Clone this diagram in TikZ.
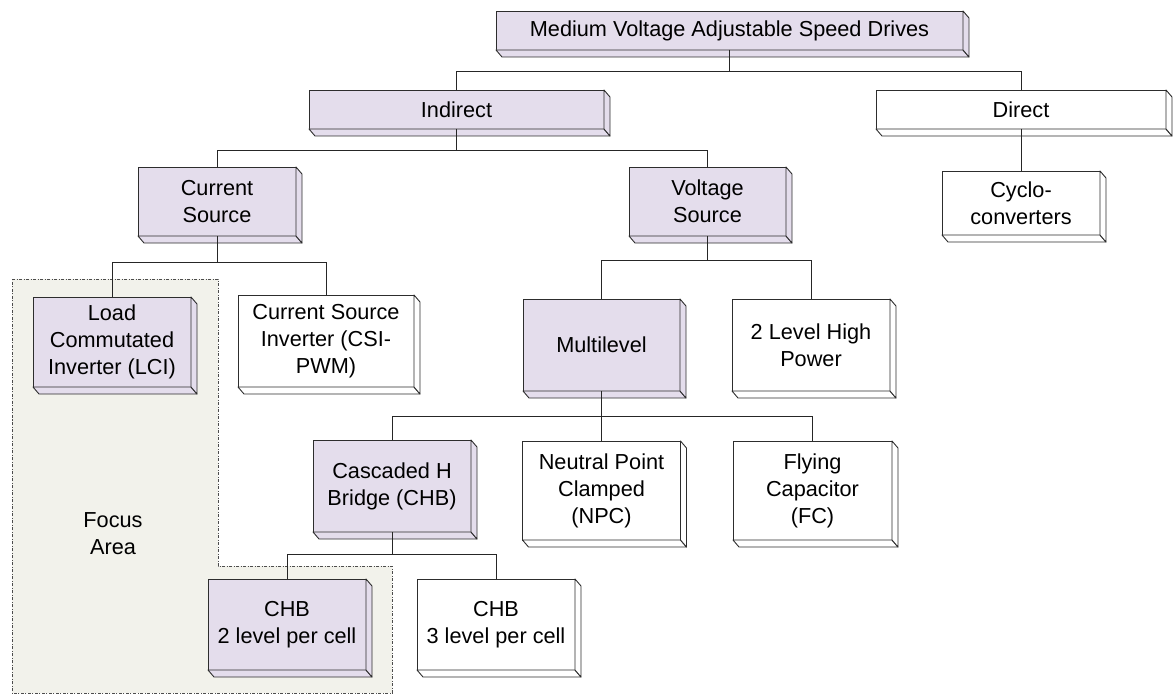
\documentclass[tikz,border=0pt]{standalone}
\usepackage{fontspec}
\setmainfont{Liberation Sans}
\definecolor{lav}{RGB}{228,221,236}
\definecolor{focusbg}{RGB}{242,242,235}
\definecolor{edge}{RGB}{45,45,45}
\tikzset{
  boxline/.style={draw=edge, line width=0.9pt},
  base/.style={boxline, inner sep=0pt, outer sep=0pt, align=center,
    font=\fontsize{21.7}{27}\selectfont},
  purplebox/.style={base, fill=lav},
  whitebox/.style={base, fill=white},
  conn/.style={draw=black!85, line width=0.9pt},
  focusline/.style={draw=black!70, line width=0.7pt, dash pattern=on 3pt off 1.5pt on 1pt off 1.5pt},
}
\newcommand{\extrude}[2]{%
  \filldraw[boxline, fill=#2, line join=round] (#1.south west) -- ++(6,7) -- ([shift={(6,7)}]#1.south east) -- (#1.south east) -- cycle;
  \filldraw[boxline, fill=#2, line join=round] (#1.south east) -- ++(6,7) -- ([shift={(6,7)}]#1.north east) -- (#1.north east) -- cycle;}
\begin{document}
\begin{tikzpicture}[x=1pt, y=-1pt]
\useasboundingbox (0,0) rectangle (1175,695);
% focus area
\filldraw[focusline, fill=focusbg] (12,279) -- (218,279) -- (218,566) -- (392,566) -- (392,693) -- (12,693) -- cycle;
\node[font=\fontsize{21.7}{27}\selectfont, align=center] (focus) at (113,534) {Focus\\Area};
% boxes
\node[purplebox, minimum width=467pt, minimum height=39pt] (top) at (729.5,30.5) {Medium Voltage Adjustable Speed Drives};
\node[purplebox, minimum width=295pt, minimum height=39pt] (ind) at (456.5,109.5) {Indirect};
\node[whitebox, minimum width=290pt, minimum height=39pt] (dir) at (1021,109.5) {Direct};
\node[purplebox, minimum width=158pt, minimum height=69pt] (cs) at (217,201.5) {Current\\Source};
\node[purplebox, minimum width=157pt, minimum height=69pt] (vs) at (707.5,201.5) {Voltage\\Source};
\node[whitebox, minimum width=158pt, minimum height=64pt] (cyc) at (1021,203) {Cyclo-\\converters};
\node[purplebox, minimum width=158pt, minimum height=90pt] (lci) at (112,342) {Load\\Commutated\\Inverter (LCI)};
\node[whitebox, minimum width=176pt, minimum height=92pt] (csi) at (326,341) {Current Source\\Inverter (CSI-\\PWM)};
\node[purplebox, minimum width=157pt, minimum height=92pt] (ml) at (601.5,345) {Multilevel};
\node[whitebox, minimum width=158pt, minimum height=92pt] (tl) at (811,345) {2 Level High\\Power};
\node[purplebox, minimum width=158pt, minimum height=92pt] (chb) at (392,486) {Cascaded H\\Bridge (CHB)};
\node[whitebox, minimum width=158pt, minimum height=99pt] (npc) at (601.5,490.5) {Neutral Point\\Clamped\\(NPC)};
\node[whitebox, minimum width=159pt, minimum height=99pt] (fc) at (812.5,490.5) {Flying\\Capacitor\\(FC)};
\node[purplebox, minimum width=158pt, minimum height=91pt] (chbtwo) at (287,624.5) {CHB\\2 level per cell};
\node[whitebox, minimum width=158pt, minimum height=91pt] (chbthree) at (496,624.5) {CHB\\3 level per cell};
% extrusions
\foreach \n in {top,ind,cs,vs,lci,ml,chb,chbtwo} {\extrude{\n}{lav}}
\foreach \n in {dir,cyc,csi,tl,npc,fc,chbthree} {\extrude{\n}{white}}
% connectors
\draw[conn] (top.south) |- (ind.north |- 0,71) -- (ind.north);
\draw[conn] (top.south) |- (dir.north |- 0,71) -- (dir.north);
\draw[conn] (ind.south) |- (cs.north |- 0,150) -- (cs.north);
\draw[conn] (ind.south) |- (vs.north |- 0,150) -- (vs.north);
\draw[conn] (dir.south) -- (cyc.north);
\draw[conn] (cs.south) |- (lci.north |- 0,262) -- (lci.north);
\draw[conn] (cs.south) |- (csi.north |- 0,262) -- (csi.north);
\draw[conn] (vs.south) |- (ml.north |- 0,260) -- (ml.north);
\draw[conn] (vs.south) |- (tl.north |- 0,260) -- (tl.north);
\draw[conn] (ml.south) |- (chb.north |- 0,416) -- (chb.north);
\draw[conn] (ml.south) -- (npc.north);
\draw[conn] (ml.south) |- (fc.north |- 0,416) -- (fc.north);
\draw[conn] (chb.south) |- (chbtwo.north |- 0,554) -- (chbtwo.north);
\draw[conn] (chb.south) |- (chbthree.north |- 0,554) -- (chbthree.north);
\end{tikzpicture}
\end{document}
